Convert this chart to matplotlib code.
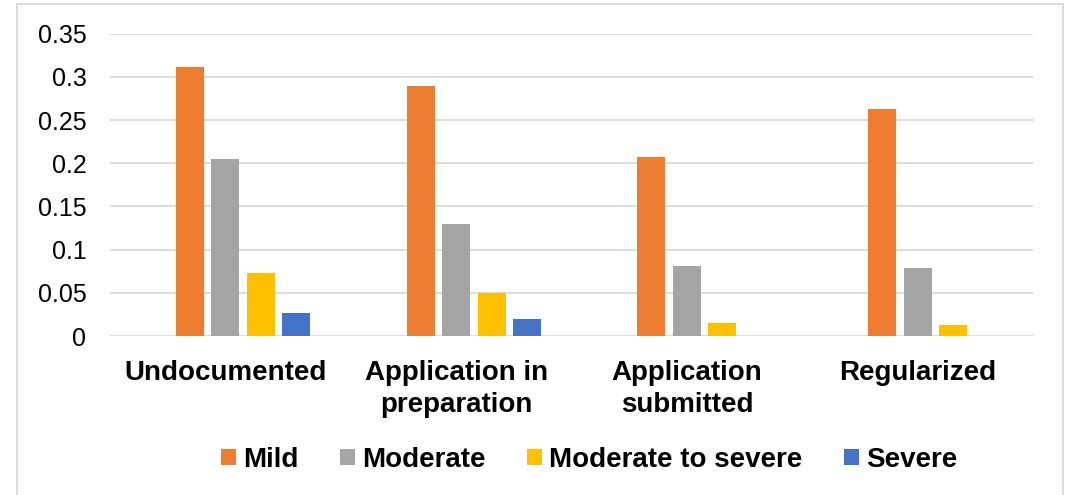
import numpy as np
import matplotlib
matplotlib.use('Agg')
import matplotlib.pyplot as plt
from matplotlib.patches import Rectangle

plt.rcParams['font.family'] = ['Liberation Sans', 'DejaVu Sans']

# Data
categories = ['Undocumented', 'Application in\npreparation', 'Application\nsubmitted', 'Regularized']
series = ['Mild', 'Moderate', 'Moderate to severe', 'Severe']
mild = [0.311, 0.289, 0.207, 0.263]
moderate = [0.205, 0.130, 0.081, 0.079]
mod_severe = [0.073, 0.050, 0.015, 0.013]
severe = [0.027, 0.020, 0.0, 0.0]
colors = ['#ED7D31', '#A5A5A5', '#FFC000', '#4472C4']

values = [mild, moderate, mod_severe, severe]

fig = plt.figure(figsize=(10.74, 4.95), dpi=100)
ax = fig.add_axes([110/1074, 1-336/495, (1033-110)/1074, (336-33.7)/495])

x = np.arange(len(categories))
slot = 0.154
width = 0.121
# Excel layout has an empty first slot, so the 4 series sit in slots 1..4 of 5
for i, (vals, name, c) in enumerate(zip(values, series, colors)):
    offset = (i + 1 - 2) * slot
    ax.bar(x + offset, vals, width, color=c, label=name, zorder=3)

ax.set_xlim(-0.5, len(categories) - 0.5)
ax.set_ylim(0, 0.35)
ax.set_yticks(np.arange(0, 0.351, 0.05))
ax.set_yticklabels(['0', '0.05', '0.1', '0.15', '0.2', '0.25', '0.3', '0.35'], fontsize=18)
ax.set_xticks(x)
ax.set_xticklabels(categories, fontsize=20, fontweight='bold', linespacing=1.3)
ax.tick_params(axis='y', length=0, pad=17)
ax.tick_params(axis='x', length=0, pad=17)
ax.grid(axis='y', color='#d9d9d9', linewidth=1.3, zorder=0)
for s in ax.spines.values():
    s.set_visible(False)

fig.legend(loc='center', bbox_to_anchor=(589/1074, 1-460/495), ncol=4, frameon=False,
           prop={'size': 20, 'weight': 'bold'}, handlelength=0.54, handleheight=0.54,
           handletextpad=0.25, columnspacing=1.5)

# light outer chart border
fig.patches.append(Rectangle((17/1074, -0.05), (1063-17)/1074, 1.05 - 4/495,
                             transform=fig.transFigure, fill=False,
                             edgecolor='#d9d9d9', linewidth=1.3))

plt.savefig('out.png', dpi=100)
